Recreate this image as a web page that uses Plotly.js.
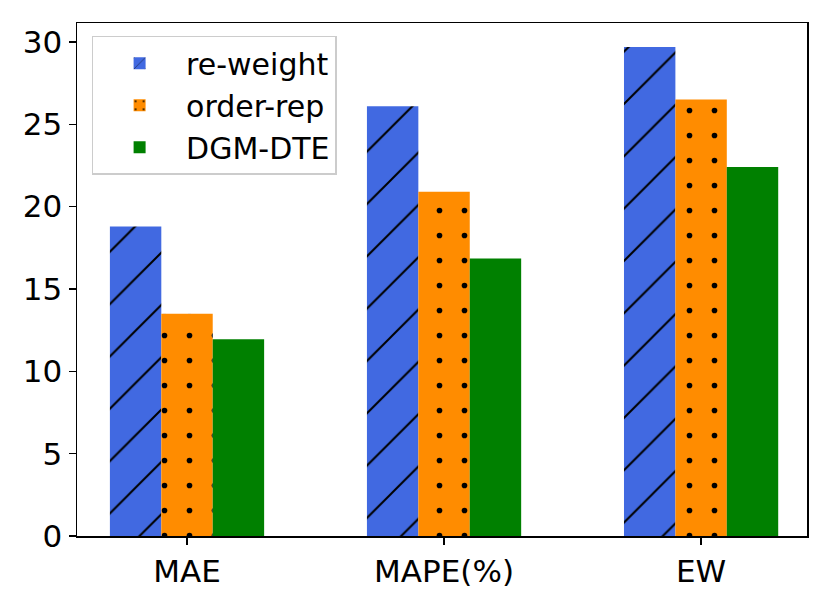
<!DOCTYPE html>
<html>
<head>
<meta charset="utf-8">
<script src="https://cdn.plot.ly/plotly-3.0.1.min.js"></script>
<style>html,body{margin:0;padding:0;background:#fff;}#chart{width:830px;height:604px;}</style>
</head>
<body>
<div id="chart"></div>
<script>
const categories = ["MAE", "MAPE(%)", "EW"];
const reweight = [18.8, 26.1, 29.7];
const orderRep = [13.5, 20.9, 26.5];
const dgmDte = [11.95, 16.85, 22.4];
const yTicks = [0, 5, 10, 15, 20, 25, 30];

const FONT = "DejaVu Sans, sans-serif";

const traces = [
  {
    type: "bar", name: "re-weight", x: categories, y: reweight,
    marker: {
      color: "#4169E1", line: {width: 0},
      pattern: {shape: "/", fgcolor: "#000000", bgcolor: "#4169E1", fillmode: "replace", size: 37, solidity: 0.055}
    }
  },
  {
    type: "bar", name: "order-rep", x: categories, y: orderRep,
    marker: {
      color: "#FF8C00", line: {width: 0},
      pattern: {shape: ".", fgcolor: "#000000", bgcolor: "#FF8C00", fillmode: "replace", size: 25, solidity: 0.04}
    }
  },
  {
    type: "bar", name: "DGM-DTE", x: categories, y: dgmDte,
    marker: {color: "#008000", line: {width: 0}}
  }
];

const layout = {
  width: 830, height: 604,
  margin: {l: 77, r: 23, t: 23, b: 68, pad: 0},
  paper_bgcolor: "#ffffff", plot_bgcolor: "#ffffff",
  font: {family: FONT, size: 31, color: "#000000"},
  barmode: "group", bargap: 0.4, bargroupgap: 0,
  showlegend: true,
  legend: {
    x: 0.02, y: 0.975, xanchor: "left", yanchor: "top",
    bgcolor: "rgba(255,255,255,0.8)", bordercolor: "#cccccc", borderwidth: 1.5,
    font: {family: FONT, size: 30, color: "#000000"},
    itemwidth: 83, tracegroupgap: 0
  },
  xaxis: {
    type: "category", range: [-0.428, 2.412],
    showline: true, linecolor: "#000000", linewidth: 1.5, mirror: true,
    ticks: "outside", ticklen: 7, tickwidth: 1.3, tickcolor: "#000000",
    showgrid: false, zeroline: false,
    tickfont: {family: FONT, size: 31, color: "#000000"}
  },
  yaxis: {
    range: [0, 31.15], tickvals: yTicks, ticktext: yTicks.map(String),
    showline: true, linecolor: "#000000", linewidth: 1.5, mirror: true,
    ticks: "outside", ticklen: 7, tickwidth: 1.3, tickcolor: "#000000",
    showgrid: false, zeroline: false,
    tickfont: {family: FONT, size: 31, color: "#000000"}
  }
};

Plotly.newPlot("chart", traces, layout, {displayModeBar: false, staticPlot: true});
</script>
</body>
</html>
